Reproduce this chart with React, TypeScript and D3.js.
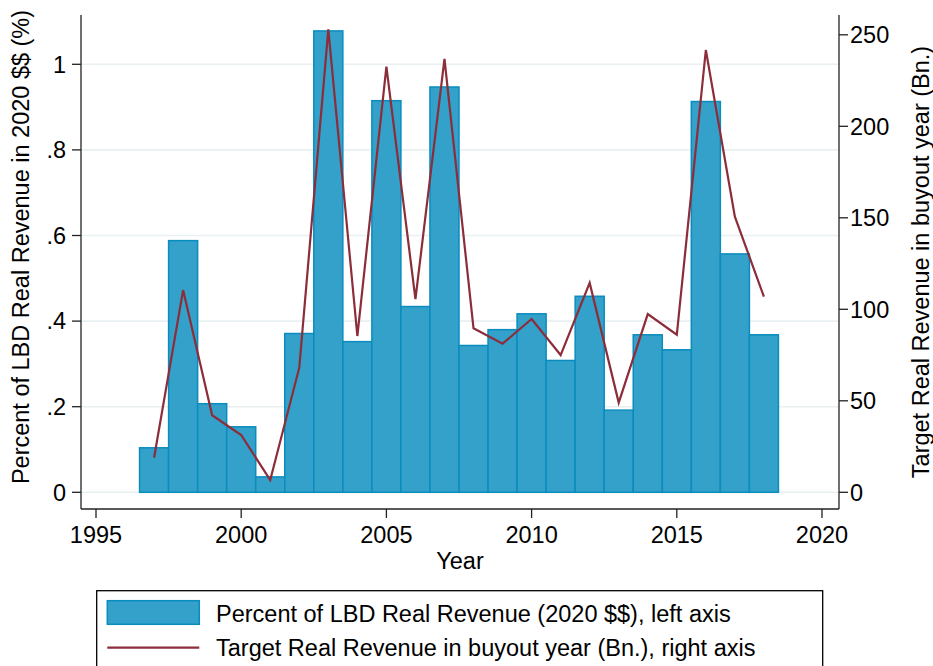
import React from "react";
import * as d3 from "d3";

const years = [1997,1998,1999,2000,2001,2002,2003,2004,2005,2006,2007,2008,2009,2010,2011,2012,2013,2014,2015,2016,2017,2018];
const pctRevenue = [0.104,0.588,0.207,0.153,0.036,0.371,1.078,0.352,0.915,0.434,0.947,0.343,0.380,0.417,0.308,0.458,0.192,0.368,0.333,0.913,0.557,0.368];
const targetRevenue = [18.9,110.5,42.1,31.3,6.7,68.1,253,85.4,232.6,105.5,236.8,89.6,81.2,94.7,75,114.4,49,97.4,86.1,241.7,150.6,106.9];
const xTicks = [1995,2000,2005,2010,2015,2020];
const leftTicks = [0,0.2,0.4,0.6,0.8,1];
const leftTickLabels = ["0",".2",".4",".6",".8","1"];
const rightTicks = [0,50,100,150,200,250];
const legendLabels = ["Percent of LBD Real Revenue (2020 $$), left axis","Target Real Revenue in buyout year (Bn.), right axis"];

const FONT = "'Liberation Sans', Arial, Helvetica, sans-serif";
const BAR_FILL = "#33a1c9";
const BAR_STROKE = "#0b8cbf";
const LINE = "#8c2d3a";
const GRID = "#e9f0f2";
const AXIS = "#222";

export default function App() {
  const W = 933, H = 666;
  const left = 81, right = 839, top = 15, bottom = 509;
  const x = d3.scaleLinear().domain([1995, 2020]).range([96, 822]);
  const yL = d3.scaleLinear().domain([0, 1]).range([492.3, 64.3]);
  const yR = d3.scaleLinear().domain([0, 250]).range([492.3, 34.8]);
  const line = d3.line<number>().x((d, i) => x(years[i])).y(d => yR(d));
  const fs = 23.5;

  return (
    <svg width={W} height={H} style={{ position: "absolute", left: 0, top: 0, background: "#fff" }} fontFamily={FONT}>
      <rect x={0} y={0} width={W} height={H} fill="#fff" />
      {leftTicks.map((t, i) => (
        <line key={"g" + i} x1={left} x2={right} y1={yL(t)} y2={yL(t)} stroke={GRID} strokeWidth={1.6} />
      ))}
      {years.map((yr, i) => (
        <rect key={"b" + i} x={x(yr - 0.5)} width={x(yr + 0.5) - x(yr - 0.5)} y={yL(pctRevenue[i])}
          height={yL(0) - yL(pctRevenue[i])} fill={BAR_FILL} stroke={BAR_STROKE} strokeWidth={1.5} />
      ))}
      <path d={line(targetRevenue) || ""} fill="none" stroke={LINE} strokeWidth={2.2} strokeLinejoin="miter" />
      {/* axes */}
      <line x1={left} x2={left} y1={top} y2={bottom} stroke={AXIS} strokeWidth={1.3} />
      <line x1={right} x2={right} y1={top} y2={bottom} stroke={AXIS} strokeWidth={1.3} />
      <line x1={left} x2={right} y1={bottom} y2={bottom} stroke={AXIS} strokeWidth={1.3} />
      {leftTicks.map((t, i) => (
        <g key={"lt" + i}>
          <line x1={left - 9} x2={left} y1={yL(t)} y2={yL(t)} stroke={AXIS} strokeWidth={1.3} />
          <text x={66} y={yL(t)} dy="0.35em" textAnchor="end" fontSize={fs} fill="#000">{leftTickLabels[i]}</text>
        </g>
      ))}
      {rightTicks.map((t, i) => (
        <g key={"rt" + i}>
          <line x1={right} x2={right + 9} y1={yR(t)} y2={yR(t)} stroke={AXIS} strokeWidth={1.3} />
          <text x={850} y={yR(t)} dy="0.35em" textAnchor="start" fontSize={fs} fill="#000">{t}</text>
        </g>
      ))}
      {xTicks.map((t, i) => (
        <g key={"xt" + i}>
          <line x1={x(t)} x2={x(t)} y1={bottom} y2={bottom + 9} stroke={AXIS} strokeWidth={1.3} />
          <text x={x(t)} y={542.7} textAnchor="middle" fontSize={fs} fill="#000">{t}</text>
        </g>
      ))}
      <text x={460} y={569} textAnchor="middle" fontSize={fs} fill="#000">Year</text>
      <text transform={`translate(29,247) rotate(-90)`} textAnchor="middle" fontSize={fs} fill="#000">Percent of LBD Real Revenue in 2020 $$ (%)</text>
      <text transform={`translate(929,262) rotate(-90)`} textAnchor="middle" fontSize={fs} fill="#000">Target Real Revenue in buyout year (Bn.)</text>
      {/* legend */}
      <rect x={96.7} y={590.7} width={726} height={100} fill="#fff" stroke="#000" strokeWidth={1.3} />
      <rect x={107.3} y={600.7} width={92} height={23.6} fill={BAR_FILL} stroke={BAR_STROKE} strokeWidth={1.5} />
      <line x1={107.3} x2={199.3} y1={647.7} y2={647.7} stroke={LINE} strokeWidth={2.2} />
      <text x={216} y={622} fontSize={fs} fill="#000">{legendLabels[0]}</text>
      <text x={216} y={656} fontSize={fs} fill="#000">{legendLabels[1]}</text>
    </svg>
  );
}
